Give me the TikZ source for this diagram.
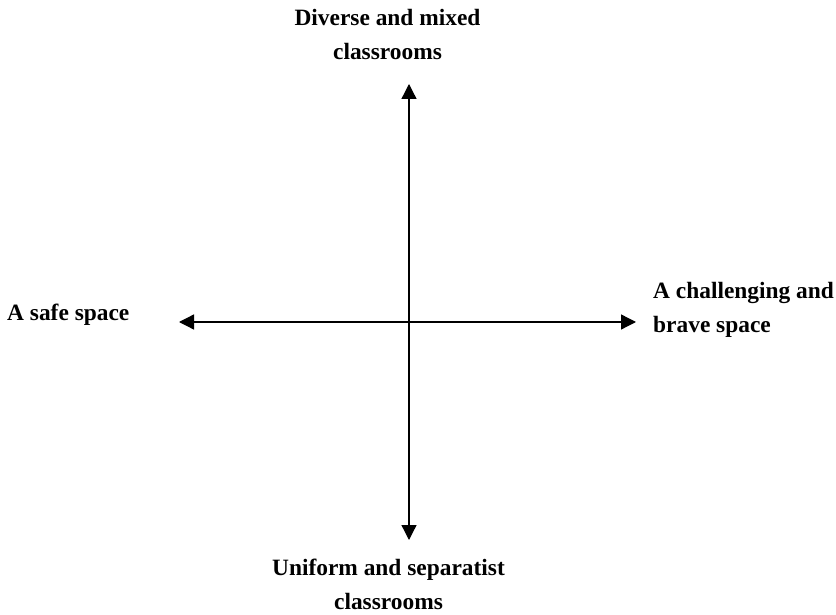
\documentclass[tikz,border=0pt]{standalone}
\usepackage{fontspec}
\setmainfont{Liberation Serif}
\usetikzlibrary{arrows.meta}
\begin{document}
\begin{tikzpicture}[x=1pt,y=1pt,
  lbl/.style={font=\bfseries\fontsize{23.4}{34}\selectfont, inner sep=0pt},
  axis/.style={line width=1.3pt, {Triangle[length=15pt,width=15pt]}-{Triangle[length=15pt,width=15pt]}}]
\useasboundingbox (0,0) rectangle (836,614);
% arrow end points (y = 614 - pixel y)
\coordinate (top) at (409,530);
\coordinate (bot) at (409,74);
\coordinate (left) at (179,292);
\coordinate (right) at (636,292);
\draw[axis] (bot) -- (top);
\draw[axis] (left) -- (right);
% labels (base anchor = baseline of the last line)
\node[lbl, align=center, anchor=base] (toplbl) at (387.5,554) {Diverse and mixed\\classrooms};
\node[lbl, anchor=base west] (leftlbl) at (7,293) {A safe space};
\node[lbl, align=left, anchor=base west] (rightlbl) at (653,281) {A challenging and\\brave space};
\node[lbl, align=center, anchor=base] (botlbl) at (388.5,5) {Uniform and separatist\\classrooms};
\end{tikzpicture}
\end{document}
